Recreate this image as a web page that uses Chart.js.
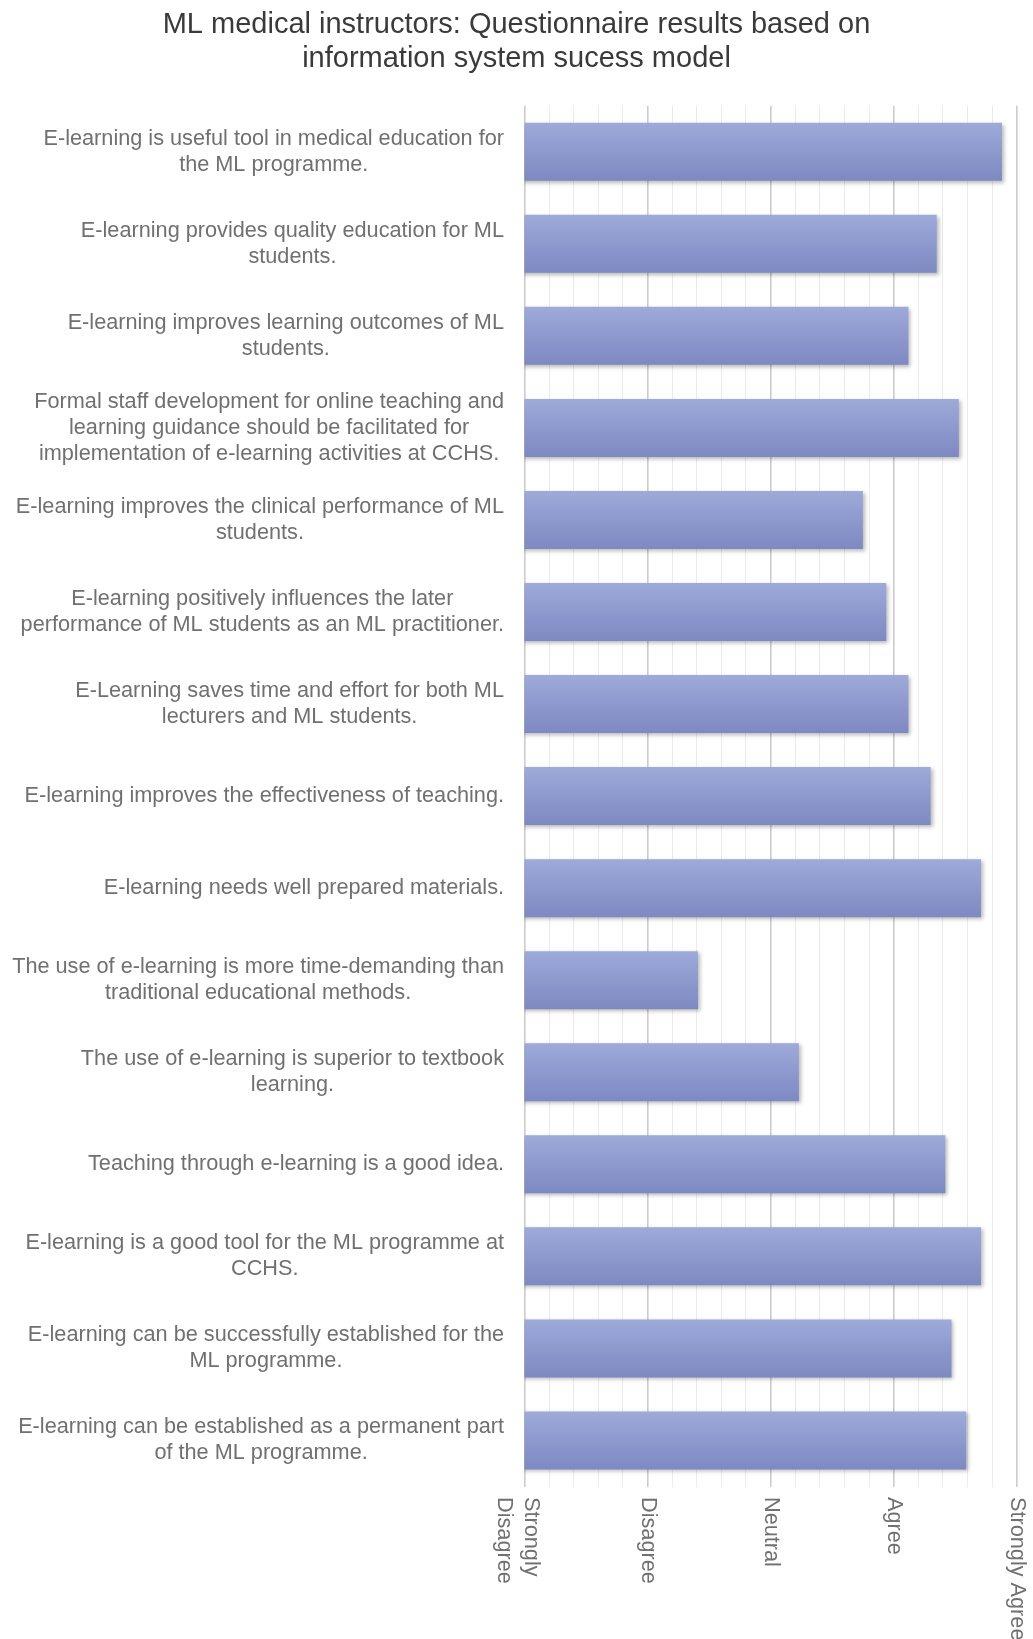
<!DOCTYPE html>
<html>
<head>
<meta charset="utf-8">
<title>ML medical instructors questionnaire</title>
<script src="https://cdn.jsdelivr.net/npm/chart.js@4.4.1/dist/chart.umd.min.js"></script>
<style>
  html, body { margin: 0; padding: 0; background: #ffffff; }
  #wrap { width: 1033px; height: 1639px; position: relative; }
</style>
</head>
<body>
<div id="wrap"><canvas id="chart"></canvas></div>
<script>
// ---- Data ----
const chartTitle = ["ML medical instructors: Questionnaire results based on", "information system sucess model"];

const categories = [
  ["E-learning is useful tool in medical education for", "the ML programme."],
  ["E-learning provides quality education for ML", "students."],
  ["E-learning improves learning outcomes of ML", "students."],
  ["Formal staff development for online teaching and", "learning guidance should be facilitated for", "implementation of e-learning activities at CCHS."],
  ["E-learning improves the clinical performance of ML", "students."],
  ["E-learning positively influences the later", "performance of ML students as an ML practitioner."],
  ["E-Learning saves time and effort for both ML", "lecturers and ML students."],
  ["E-learning improves the effectiveness of teaching."],
  ["E-learning needs well prepared materials."],
  ["The use of e-learning is more time-demanding than", "traditional educational methods."],
  ["The use of e-learning is superior to textbook", "learning."],
  ["Teaching through e-learning is a good idea."],
  ["E-learning is a good tool for the ML programme at", "CCHS."],
  ["E-learning can be successfully established for the", "ML programme."],
  ["E-learning can be established as a permanent part", "of the ML programme."]
];

const scores = [4.88, 4.35, 4.12, 4.53, 3.75, 3.94, 4.12, 4.30, 4.71, 2.41, 3.23, 4.42, 4.71, 4.47, 4.59];

const scaleValues = [1, 2, 3, 4, 5];
const scaleLabels = [["Strongly", "Disagree"], ["Disagree"], ["Neutral"], ["Agree"], ["Strongly Agree"]];

// ---- Styles ----
const FONT = "'Liberation Sans', Arial, Helvetica, sans-serif";
const LABEL_SIZE = 21.7;
const LABEL_COLOR = '#707070';
const BAR_TOP = '#9eaad9';
const BAR_BOTTOM = '#7d89c1';
const BAR_FRACTION = 0.63;
const LEFT_GUTTER = 524.5;
const RIGHT_GUTTER = 16.3;

// Custom label drawing (block right-aligned, lines centred within block; x labels rotated clockwise)
const labelPlugin = {
  id: 'labelPlugin',
  afterDraw(chart) {
    const ctx = chart.ctx;
    const xs = chart.scales.x, ys = chart.scales.y, area = chart.chartArea;
    ctx.save();
    ctx.font = LABEL_SIZE + 'px ' + FONT;
    ctx.fillStyle = LABEL_COLOR;
    ctx.textBaseline = 'middle';
    ctx.textAlign = 'center';
    const lh = 26;
    const rightEdge = area.left - 20.5;
    categories.forEach((lines, i) => {
      const yc = ys.getPixelForValue(i);
      let maxW = 0;
      lines.forEach(l => { maxW = Math.max(maxW, ctx.measureText(l).width); });
      const cx = rightEdge - maxW / 2;
      lines.forEach((l, j) => {
        ctx.fillText(l, cx, yc + (j - (lines.length - 1) / 2) * lh);
      });
    });
    // x tick labels, rotated clockwise
    ctx.textAlign = 'left';
    const top = area.bottom + 10.5;
    const xlh = 26.5;
    scaleValues.forEach((v, i) => {
      const lines = scaleLabels[i];
      const px = xs.getPixelForValue(v);
      ctx.save();
      ctx.translate(px + (lines.length > 1 ? -7 : 0), top);
      ctx.rotate(Math.PI / 2);
      lines.forEach((l, j) => {
        ctx.fillText(l, 0, (j - (lines.length - 1) / 2) * xlh);
      });
      ctx.restore();
    });
    ctx.restore();
  }
};

const shadowPlugin = {
  id: 'shadowPlugin',
  beforeDatasetsDraw(chart) {
    const ctx = chart.ctx;
    ctx.save();
    ctx.shadowColor = 'rgba(0,0,0,0.28)';
    ctx.shadowBlur = 4;
    ctx.shadowOffsetX = 2;
    ctx.shadowOffsetY = 2;
  },
  afterDatasetsDraw(chart) {
    chart.ctx.restore();
  }
};

function isMajor(v) { return Math.abs(v - Math.round(v)) < 1e-6; }

new Chart(document.getElementById('chart'), {
  type: 'bar',
  data: {
    labels: categories,
    datasets: [{
      data: scores,
      backgroundColor: (c) => {
        const chart = c.chart;
        const ys = chart.scales && chart.scales.y;
        if (!ys || c.dataIndex === undefined || !chart.chartArea) return '#8e9acd';
        const yc = ys.getPixelForValue(c.dataIndex);
        const half = (ys.height / categories.length) * BAR_FRACTION / 2;
        if (!isFinite(yc) || !isFinite(half)) return '#8e9acd';
        const g = chart.ctx.createLinearGradient(0, yc - half, 0, yc + half);
        g.addColorStop(0, BAR_TOP);
        g.addColorStop(1, BAR_BOTTOM);
        return g;
      },
      borderWidth: 0,
      barPercentage: BAR_FRACTION,
      categoryPercentage: 1
    }]
  },
  options: {
    indexAxis: 'y',
    responsive: true,
    maintainAspectRatio: false,
    animation: false,
    layout: { padding: { left: 0, right: 0, top: 0, bottom: 152.5 } },
    plugins: {
      legend: { display: false },
      tooltip: { enabled: false },
      title: {
        display: true,
        text: chartTitle,
        color: '#3a3a3a',
        font: { family: FONT, size: 29, weight: 'normal', lineHeight: 1.19 },
        padding: { top: 7.5, bottom: 29.2 }
      }
    },
    scales: {
      x: {
        type: 'linear',
        min: 1,
        max: 5,
        ticks: { display: false, stepSize: 0.2, maxTicksLimit: 30 },
        border: { display: false },
        grid: {
          drawTicks: false,
          color: (c) => isMajor(c.tick.value) ? '#cccccc' : '#ebebeb',
          lineWidth: (c) => isMajor(c.tick.value) ? 1.6 : 1
        }
      },
      y: {
        display: true,
        position: 'left',
        ticks: { display: false },
        grid: { display: false, drawTicks: false },
        border: { display: false },
        afterFit(s) { s.width = LEFT_GUTTER; }
      },
      yRight: {
        type: 'category',
        display: true,
        position: 'right',
        ticks: { display: false },
        grid: { display: false, drawTicks: false },
        border: { display: false },
        afterFit(s) { s.width = RIGHT_GUTTER; }
      }
    }
  },
  plugins: [shadowPlugin, labelPlugin]
});
</script>
</body>
</html>
